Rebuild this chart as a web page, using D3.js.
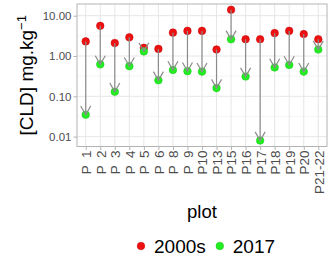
<!DOCTYPE html>
<html>
<head>
<meta charset="utf-8">
<script src="https://cdn.jsdelivr.net/npm/d3@7"></script>
<style>
  body { margin: 0; background: #fff; }
  text { font-family: "Liberation Sans", Arial, sans-serif; white-space: pre; }
</style>
</head>
<body>
<div id="container"></div>
<script>
var plots = ['P  1', 'P  2', 'P  3', 'P  4', 'P  5', 'P  6', 'P  8', 'P  9', 'P10',
             'P13', 'P15', 'P16', 'P17', 'P18', 'P19', 'P20', 'P21-22'];
var cld2000s = [2.3, 5.6, 2.1, 2.9, 1.6, 1.5, 3.8, 4.2, 4.2, 1.45, 14.0, 2.6, 2.6, 3.7, 4.2, 3.5, 2.6];
var cld2017 = [0.035, 0.62, 0.13, 0.56, 1.3, 0.25, 0.45, 0.42, 0.41, 0.16, 2.6, 0.31, 0.008, 0.52, 0.6, 0.41, 1.45];
var yTicks = [0.01, 0.1, 1, 10];
var yMinor = [0.01 * Math.sqrt(10), 0.1 * Math.sqrt(10), Math.sqrt(10)];

var W = 331, H = 262;
var panel = { left: 77, right: 327, top: 4, bottom: 146.5 };

var svg = d3.select('#container').append('svg')
  .attr('width', W).attr('height', H);

var x = d3.scalePoint()
  .domain(plots)
  .range([panel.left, panel.right])
  .padding(0.6);

var y = d3.scaleLog()
  .domain([Math.pow(10, -2.245), Math.pow(10, 1.29)])
  .range([panel.bottom, panel.top]);

// panel grid
var grid = svg.append('g');
grid.selectAll('.minor').data(yMinor).enter().append('line')
  .attr('x1', panel.left).attr('x2', panel.right)
  .attr('y1', function(d) { return y(d); }).attr('y2', function(d) { return y(d); })
  .attr('stroke', '#efefef').attr('stroke-width', 0.6);
grid.selectAll('.hmaj').data(yTicks).enter().append('line')
  .attr('x1', panel.left).attr('x2', panel.right)
  .attr('y1', function(d) { return y(d); }).attr('y2', function(d) { return y(d); })
  .attr('stroke', '#e3e3e3').attr('stroke-width', 0.9);
grid.selectAll('.vmaj').data(plots).enter().append('line')
  .attr('y1', panel.top).attr('y2', panel.bottom)
  .attr('x1', function(d) { return x(d); }).attr('x2', function(d) { return x(d); })
  .attr('stroke', '#e3e3e3').attr('stroke-width', 0.9);

// axes
var yAxis = d3.axisLeft(y).tickValues(yTicks)
  .tickFormat(d3.format('.2f')).tickSize(3.5).tickPadding(2);
var gy = svg.append('g').attr('transform', 'translate(' + panel.left + ',0)').call(yAxis);
gy.select('.domain').remove();
gy.selectAll('line').attr('stroke', '#b3b3b3');
gy.selectAll('text').attr('fill', '#4d4d4d').style('font-size', '11.5px')
  .style('font-family', '"Liberation Sans", Arial, sans-serif');

var xAxis = d3.axisBottom(x).tickSize(3.5).tickPadding(0);
var gx = svg.append('g').attr('transform', 'translate(0,' + panel.bottom + ')').call(xAxis);
gx.select('.domain').remove();
gx.selectAll('line').attr('stroke', '#b3b3b3');
gx.selectAll('text')
  .attr('fill', '#4d4d4d').style('font-size', '13.5px')
  .style('font-family', '"Liberation Sans", Arial, sans-serif')
  .attr('text-anchor', 'end')
  .attr('transform', 'translate(0,4) rotate(-90)')
  .attr('x', 0).attr('y', 0).attr('dy', '0.36em');

// points
var rows = plots.map(function(p, i) { return { plot: p, a: cld2000s[i], b: cld2017[i] }; });
var pts = svg.append('g');
pts.selectAll('.red').data(rows).enter().append('circle')
  .attr('cx', function(d) { return x(d.plot); })
  .attr('cy', function(d) { return y(d.a); })
  .attr('r', 3.8).attr('fill', '#ee1111').attr('stroke', '#c40000').attr('stroke-width', 0.5);
pts.selectAll('.green').data(rows).enter().append('circle')
  .attr('cx', function(d) { return x(d.plot); })
  .attr('cy', function(d) { return y(d.b); })
  .attr('r', 3.8).attr('fill', '#22ee22').attr('stroke', '#11c411').attr('stroke-width', 0.5);

// arrows
var arr = svg.append('g').attr('stroke', '#8c8c8c').attr('stroke-width', 1.2).attr('fill', 'none');
rows.forEach(function(d) {
  var cx = x(d.plot), y0 = y(d.a), y1 = y(d.b);
  arr.append('line').attr('x1', cx).attr('x2', cx).attr('y1', y0).attr('y2', y1);
  var len = 10, ang = Math.PI / 6;
  var dir = y1 > y0 ? -1 : 1;
  arr.append('path').attr('d',
    'M' + (cx - len * Math.sin(ang)) + ',' + (y1 + dir * len * Math.cos(ang)) +
    'L' + cx + ',' + y1 +
    'L' + (cx + len * Math.sin(ang)) + ',' + (y1 + dir * len * Math.cos(ang)));
});

// panel border
svg.append('rect')
  .attr('x', panel.left).attr('y', panel.top)
  .attr('width', panel.right - panel.left).attr('height', panel.bottom - panel.top)
  .attr('fill', 'none').attr('stroke', '#b3b3b3').attr('stroke-width', 1);

// titles
var yt = svg.append('text')
  .attr('transform', 'translate(33,' + ((panel.top + panel.bottom) / 2) + ') rotate(-90)')
  .attr('text-anchor', 'middle').attr('fill', '#000').style('font-size', '19px');
yt.append('tspan').text('[CLD] mg.kg');
yt.append('tspan').attr('dy', '-0.55em').style('font-size', '13px').text('\u22121');

svg.append('text')
  .attr('x', (panel.left + panel.right) / 2).attr('y', 218)
  .attr('text-anchor', 'middle').attr('fill', '#000').style('font-size', '18.5px')
  .text('plot');

// legend
var legend = svg.append('g');
var series = [{ name: '2000s', color: '#ee1111', stroke: '#c40000' },
              { name: '2017', color: '#22ee22', stroke: '#11c411' }];
var lx = 141;
series.forEach(function(s) {
  legend.append('circle').attr('cx', lx).attr('cy', 246).attr('r', 3.8)
    .attr('fill', s.color).attr('stroke', s.stroke).attr('stroke-width', 0.5);
  var t = legend.append('text').attr('x', lx + 13).attr('y', 252.5)
    .attr('fill', '#000').style('font-size', '19px').text(s.name);
  lx = lx + 13 + t.node().getComputedTextLength() + 14;
});
</script>
</body>
</html>
